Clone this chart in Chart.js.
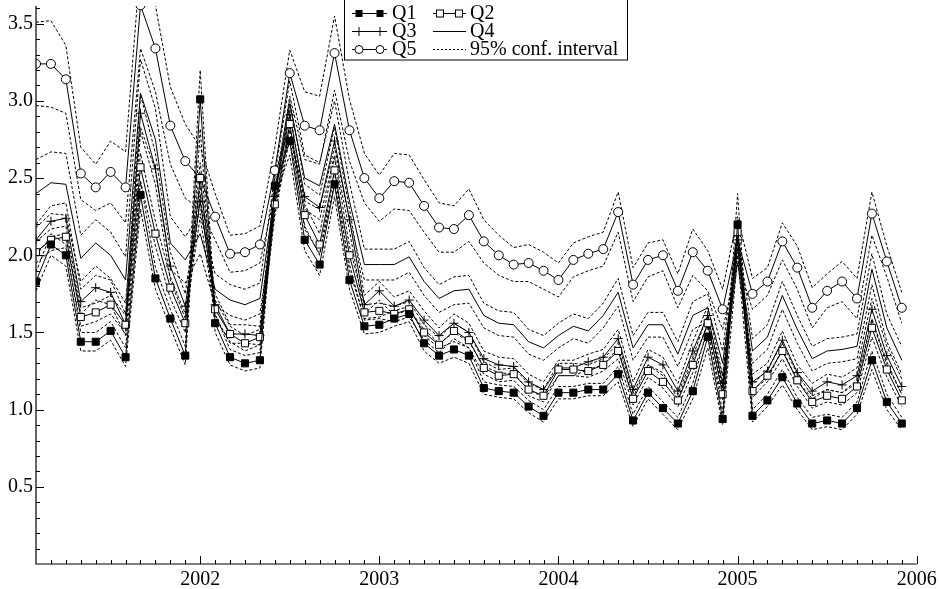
<!DOCTYPE html>
<html>
<head>
<meta charset="utf-8">
<script src="https://cdn.jsdelivr.net/npm/chart.js@4/dist/chart.umd.min.js"></script>
<style>
html,body{margin:0;padding:0;background:#fff;}
#wrap{width:940px;height:589px;}
</style>
</head>
<body>
<div id="wrap"><canvas id="c" width="940" height="589"></canvas></div>
<script>
const months = [
 "2001-02","2001-03","2001-04","2001-05","2001-06","2001-07","2001-08","2001-09","2001-10","2001-11","2001-12",
 "2002-01","2002-02","2002-03","2002-04","2002-05","2002-06","2002-07","2002-08","2002-09","2002-10","2002-11","2002-12",
 "2003-01","2003-02","2003-03","2003-04","2003-05","2003-06","2003-07","2003-08","2003-09","2003-10","2003-11","2003-12",
 "2004-01","2004-02","2004-03","2004-04","2004-05","2004-06","2004-07","2004-08","2004-09","2004-10","2004-11","2004-12",
 "2005-01","2005-02","2005-03","2005-04","2005-05","2005-06","2005-07","2005-08","2005-09","2005-10","2005-11","2005-12"
];
const Q1 = [1.83,2.07,2.00,1.44,1.44,1.51,1.34,2.39,1.85,1.59,1.35,
 3.01,1.56,1.34,1.30,1.32,2.45,2.74,2.10,1.94,2.46,1.84,1.54,
 1.55,1.59,1.62,1.43,1.35,1.39,1.35,1.14,1.12,1.11,1.02,0.96,
 1.11,1.11,1.13,1.13,1.23,0.93,1.11,1.01,0.91,1.12,1.47,0.94,
 2.20,0.96,1.06,1.21,1.04,0.91,0.93,0.91,1.01,1.32,1.05,0.91];
const Q2 = [2.02,2.10,2.12,1.60,1.63,1.68,1.55,2.57,2.14,1.79,1.56,
 2.50,1.65,1.49,1.43,1.47,2.33,2.85,2.26,2.07,2.55,2.00,1.63,
 1.64,1.62,1.65,1.50,1.42,1.51,1.45,1.27,1.22,1.23,1.13,1.09,
 1.26,1.26,1.25,1.29,1.38,1.07,1.25,1.18,1.06,1.29,1.56,1.10,
 2.15,1.12,1.22,1.38,1.19,1.05,1.09,1.07,1.15,1.53,1.26,1.06];
const Q3 = [2.10,2.22,2.24,1.70,1.79,1.76,1.55,2.92,2.56,1.93,1.67,
 2.35,1.68,1.49,1.49,1.48,2.38,2.91,2.38,2.31,2.74,2.23,1.68,
 1.77,1.67,1.71,1.58,1.48,1.56,1.50,1.33,1.29,1.28,1.18,1.13,
 1.27,1.27,1.31,1.34,1.46,1.13,1.34,1.29,1.12,1.38,1.61,1.17,
 2.10,1.18,1.25,1.45,1.24,1.12,1.18,1.16,1.22,1.65,1.35,1.15];
const Q4 = [2.40,2.47,2.46,1.98,2.08,2.00,1.84,3.05,2.75,2.08,1.97,
 2.14,1.78,1.71,1.68,1.72,2.40,2.98,2.50,2.45,2.85,2.35,1.94,
 1.94,1.94,1.99,1.83,1.72,1.77,1.78,1.61,1.56,1.55,1.44,1.40,
 1.48,1.54,1.51,1.61,1.76,1.40,1.55,1.55,1.36,1.61,1.66,1.30,
 2.05,1.38,1.47,1.74,1.52,1.33,1.38,1.39,1.41,1.91,1.53,1.32];
const Q5 = [3.24,3.24,3.14,2.53,2.44,2.54,2.44,3.62,3.34,2.84,2.61,
 2.50,2.25,2.01,2.02,2.07,2.55,3.18,2.84,2.81,3.31,2.81,2.50,
 2.37,2.48,2.47,2.32,2.18,2.17,2.26,2.09,2.00,1.94,1.95,1.90,
 1.84,1.97,2.01,2.04,2.28,1.81,1.97,2.00,1.77,2.02,1.90,1.65,
 2.10,1.75,1.83,2.09,1.92,1.66,1.77,1.83,1.72,2.27,1.96,1.66];
// half-widths of the 95% confidence intervals
const Q1hw = [0.06,0.07,0.07,0.06,0.06,0.06,0.06,0.09,0.07,0.06,0.06,
 0.19,0.06,0.05,0.05,0.05,0.07,0.09,0.07,0.07,0.08,0.06,0.05,
 0.05,0.05,0.05,0.05,0.05,0.05,0.05,0.04,0.04,0.04,0.04,0.04,
 0.04,0.04,0.04,0.04,0.05,0.04,0.04,0.04,0.04,0.05,0.07,0.04,
 0.20,0.04,0.04,0.05,0.04,0.04,0.04,0.04,0.04,0.06,0.05,0.04];
const Q2hw = [0.07,0.07,0.07,0.06,0.06,0.06,0.06,0.09,0.08,0.07,0.06,
 0.10,0.06,0.05,0.05,0.05,0.07,0.09,0.07,0.07,0.08,0.06,0.05,
 0.05,0.05,0.05,0.05,0.05,0.05,0.05,0.04,0.04,0.04,0.04,0.04,
 0.04,0.04,0.04,0.04,0.05,0.04,0.04,0.04,0.04,0.05,0.06,0.04,
 0.08,0.04,0.04,0.05,0.04,0.04,0.04,0.04,0.04,0.06,0.05,0.04];
const Q3hw = [0.10,0.10,0.10,0.08,0.08,0.08,0.07,0.12,0.10,0.09,0.08,
 0.10,0.07,0.06,0.06,0.06,0.08,0.10,0.08,0.08,0.09,0.07,0.06,
 0.06,0.06,0.06,0.06,0.05,0.06,0.06,0.05,0.05,0.05,0.05,0.05,
 0.05,0.05,0.05,0.05,0.06,0.05,0.05,0.05,0.05,0.06,0.06,0.05,
 0.08,0.05,0.05,0.06,0.05,0.05,0.05,0.05,0.05,0.07,0.06,0.05];
const Q4hw = [0.22,0.20,0.20,0.15,0.15,0.15,0.15,0.22,0.20,0.17,0.15,
 0.13,0.10,0.10,0.10,0.10,0.12,0.15,0.15,0.15,0.15,0.12,0.10,
 0.10,0.10,0.10,0.09,0.09,0.09,0.09,0.08,0.08,0.08,0.08,0.08,
 0.08,0.08,0.08,0.08,0.09,0.08,0.08,0.08,0.08,0.09,0.09,0.08,
 0.10,0.08,0.08,0.09,0.09,0.08,0.08,0.08,0.08,0.10,0.09,0.09];
const Q5hw = [0.27,0.28,0.22,0.17,0.15,0.20,0.23,0.28,0.28,0.25,0.24,
 0.20,0.15,0.12,0.12,0.12,0.15,0.15,0.22,0.22,0.24,0.20,0.16,
 0.15,0.18,0.18,0.17,0.16,0.15,0.17,0.14,0.13,0.11,0.12,0.12,
 0.11,0.11,0.11,0.11,0.13,0.11,0.11,0.10,0.11,0.15,0.13,0.13,
 0.15,0.10,0.09,0.12,0.14,0.13,0.11,0.13,0.13,0.14,0.10,0.10];

const xTickValues = [2002,2003,2004,2005,2006];
const xTickLabels = ["2002","2003","2004","2005","2006"];
const yTickValues = [0.5,1.0,1.5,2.0,2.5,3.0,3.5];
const yTickLabels = ["0.5","1.0","1.5","2.0","2.5","3.0","3.5"];
const seriesNames = ["Q1","Q2","Q3","Q4","Q5"];
const ciLabel = "95% conf. interval";

const xVal = months.map(m => { const [yy, mm] = m.split("-").map(Number); return yy + (mm - 1) / 12; });
const X_MIN = xVal[0], X_MAX = 2006;
const Y_MIN = 0, Y_MAX = 3.615;

const FONT = '20px "Liberation Serif", "Times New Roman", serif';
const vals = [Q1,Q2,Q3,Q4,Q5];
const hws = [Q1hw,Q2hw,Q3hw,Q4hw,Q5hw];
const styles = [
  {pointStyle:'rect', pointRadius:5, bg:'#000'},
  {pointStyle:'rect', pointRadius:5, bg:'#fff'},
  {pointStyle:'cross', pointRadius:4.5, bg:'#000'},
  {pointStyle:false, pointRadius:0, bg:'#000'},
  {pointStyle:'circle', pointRadius:4.5, bg:'#fff'}
];

const datasets = [];
vals.forEach((v, s) => {
  datasets.push({
    label: seriesNames[s],
    data: v.map((y, i) => ({x: xVal[i], y})),
    borderColor: '#000', borderWidth: 1,
    backgroundColor: styles[s].bg,
    pointStyle: styles[s].pointStyle || 'circle',
    pointRadius: styles[s].pointRadius,
    pointBorderColor: '#000', pointBorderWidth: 1,
    pointBackgroundColor: styles[s].bg,
    tension: 0, fill: false
  });
});
vals.forEach((v, s) => {
  [-1, 1].forEach(sign => {
    datasets.push({
      label: seriesNames[s] + (sign < 0 ? ' lower' : ' upper'),
      data: v.map((y, i) => ({x: xVal[i], y: +(y + sign * hws[s][i]).toFixed(3)})),
      borderColor: '#000', borderWidth: 1, borderDash: [3, 2],
      pointRadius: 0, tension: 0, fill: false
    });
  });
});

function marker(ctx, style, x, y) {
  ctx.save();
  ctx.lineWidth = 1; ctx.strokeStyle = '#000'; ctx.setLineDash([]);
  if (style === 'fsq') { ctx.fillStyle = '#000'; ctx.fillRect(x - 3.5, y - 3.5, 7, 7); }
  else if (style === 'osq') { ctx.fillStyle = '#fff'; ctx.fillRect(x - 3.5, y - 3.5, 7, 7); ctx.strokeRect(x - 3.5, y - 3.5, 7, 7); }
  else if (style === 'cross') { ctx.beginPath(); ctx.moveTo(x - 4.5, y); ctx.lineTo(x + 4.5, y); ctx.moveTo(x, y - 4.5); ctx.lineTo(x, y + 4.5); ctx.stroke(); }
  else if (style === 'circ') { ctx.fillStyle = '#fff'; ctx.beginPath(); ctx.arc(x, y, 4, 0, Math.PI * 2); ctx.fill(); ctx.stroke(); }
  ctx.restore();
}

const axesPlugin = {
  id: 'axesPlugin',
  afterDraw(chart) {
    const {ctx, chartArea: a, scales: {x, y}} = chart;
    ctx.save();
    ctx.strokeStyle = '#000';
    ctx.lineWidth = 1.2;
    ctx.beginPath();
    ctx.moveTo(a.left, a.top); ctx.lineTo(a.left, a.bottom); ctx.lineTo(a.right, a.bottom);
    ctx.stroke();
    ctx.lineWidth = 1;
    // x ticks (monthly minor, yearly major), drawn inward
    for (let k = 1; k <= 59; k++) {
      const v = X_MIN + k / 12;
      const px = Math.round(x.getPixelForValue(v)) + 0.5;
      const major = xTickValues.some(t => Math.abs(t - v) < 1e-6);
      ctx.beginPath(); ctx.moveTo(px, a.bottom); ctx.lineTo(px, a.bottom - (major ? 8 : 4)); ctx.stroke();
    }
    // y ticks every 0.1, major at 0.5
    for (let k = 1; k <= 36; k++) {
      const v = k / 10;
      const py = Math.round(y.getPixelForValue(v)) + 0.5;
      const major = k % 5 === 0;
      ctx.beginPath(); ctx.moveTo(a.left, py); ctx.lineTo(a.left + (major ? 8 : 4), py); ctx.stroke();
    }
    ctx.fillStyle = '#000';
    ctx.font = FONT;
    ctx.textAlign = 'right'; ctx.textBaseline = 'middle';
    yTickValues.forEach((v, i) => ctx.fillText(yTickLabels[i], a.left - 3, y.getPixelForValue(v)));
    ctx.textAlign = 'center'; ctx.textBaseline = 'top';
    xTickValues.forEach((v, i) => ctx.fillText(xTickLabels[i], x.getPixelForValue(v), a.bottom + 6));

    // legend
    const L = 344.5, T = -1, W = 283, H = 61;
    ctx.fillStyle = '#fff'; ctx.fillRect(L, T, W, H);
    ctx.strokeRect(L, T, W, H);
    const rows = [13, 31, 49];
    const cols = [{x0: 352, x1: 387, m0: 359, m1: 380, tx: 392}, {x0: 433, x1: 466, m0: 440, m1: 459, tx: 470}];
    const items = [
      {r: 0, c: 0, name: seriesNames[0], mk: 'fsq'},
      {r: 0, c: 1, name: seriesNames[1], mk: 'osq'},
      {r: 1, c: 0, name: seriesNames[2], mk: 'cross'},
      {r: 1, c: 1, name: seriesNames[3], mk: null},
      {r: 2, c: 0, name: seriesNames[4], mk: 'circ'},
      {r: 2, c: 1, name: ciLabel, mk: null, dash: true}
    ];
    ctx.font = FONT; ctx.textAlign = 'left'; ctx.textBaseline = 'middle';
    items.forEach(it => {
      const c = cols[it.c], yy = rows[it.r] + 0.5;
      ctx.save();
      ctx.strokeStyle = '#000'; ctx.lineWidth = 1;
      if (it.dash) ctx.setLineDash([2, 2]);
      ctx.beginPath(); ctx.moveTo(c.x0, yy); ctx.lineTo(c.x1, yy); ctx.stroke();
      ctx.restore();
      if (it.mk) { marker(ctx, it.mk, c.m0, yy); marker(ctx, it.mk, c.m1, yy); }
      ctx.fillStyle = '#000';
      ctx.fillText(it.name, c.tx, rows[it.r] + 1);
    });
    ctx.restore();
  }
};

new Chart(document.getElementById('c'), {
  type: 'line',
  data: {datasets},
  options: {
    responsive: false,
    animation: false,
    events: [],
    layout: {padding: {left: 36, right: 23.3, top: 0, bottom: 25}},
    plugins: {legend: {display: false}, tooltip: {enabled: false}, title: {display: false}},
    scales: {
      x: {type: 'linear', min: X_MIN, max: X_MAX, display: false},
      y: {type: 'linear', min: Y_MIN, max: Y_MAX, display: false}
    }
  },
  plugins: [axesPlugin]
});
</script>
</body>
</html>
